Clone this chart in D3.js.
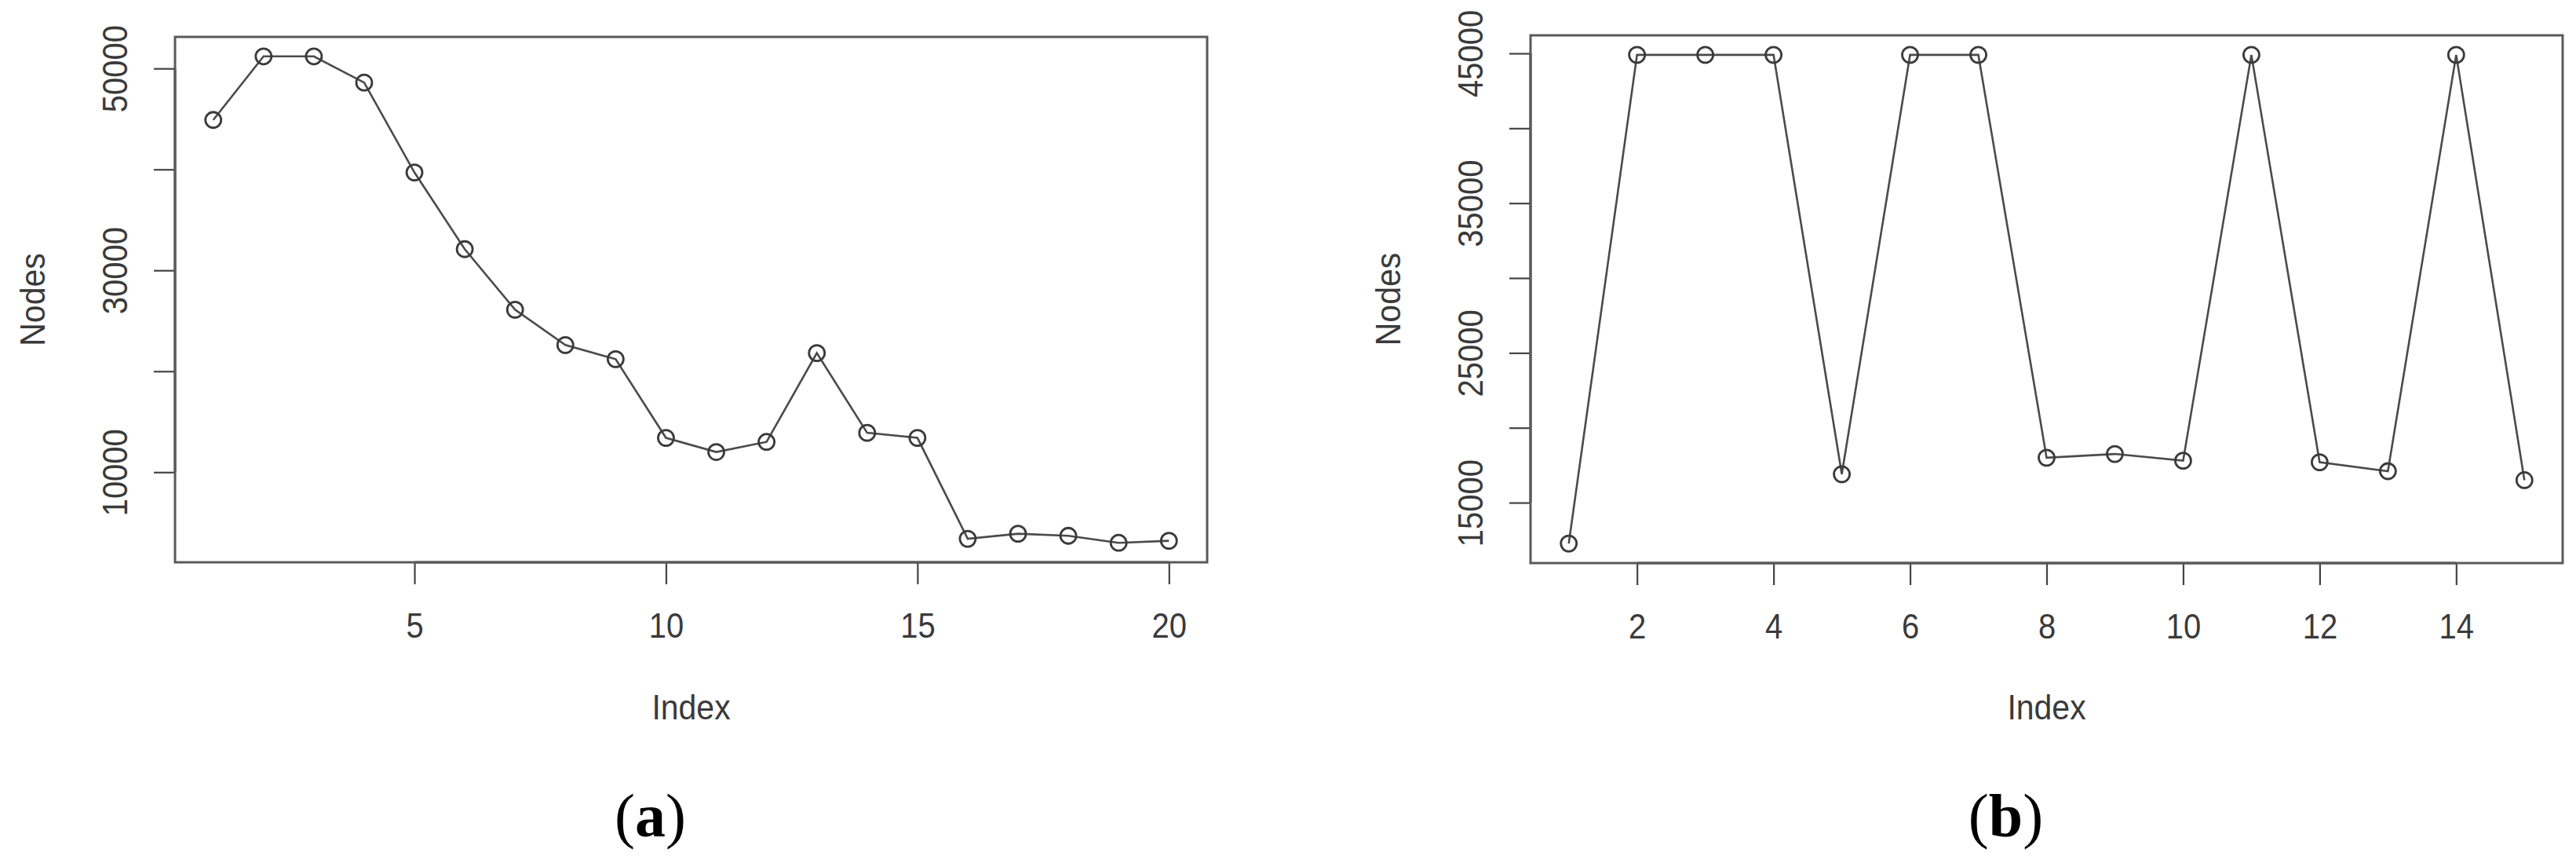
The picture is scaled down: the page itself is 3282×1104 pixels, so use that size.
<!DOCTYPE html>
<html>
<head>
<meta charset="utf-8">
<script src="https://cdn.jsdelivr.net/npm/d3@7"></script>
<style>
    body { margin: 0; background: #fff; }
    svg { display: block; }
</style>
</head>
<body>
<div id="graph"></div>
<script>
'use strict';

// ---- data ----
const indexA = d3.range(1, 21);
const nodesA = [44900, 51200, 51200, 48600, 39700, 32100, 26100, 22600, 21200, 13400,
                12000, 13000, 21800, 13900, 13400, 3400, 3900, 3700, 3000, 3200];
const xTicksA = [5, 10, 15, 20];
const yTicksA = [10000, 20000, 30000, 40000, 50000];
const yLabelsA = [10000, 30000, 50000];

const indexB = d3.range(1, 16);
const nodesB = [12270, 44900, 44900, 44900, 16900, 44900, 44900, 18000, 18250, 17800,
                44900, 17700, 17100, 44900, 16500];
const xTicksB = [2, 4, 6, 8, 10, 12, 14];
const yTicksB = [15000, 20000, 25000, 30000, 35000, 40000, 45000];
const yLabelsB = [15000, 25000, 35000, 45000];

const xTitle = "Index";
const yTitle = "Nodes";

const WIDTH = 3282, HEIGHT = 1104;

let svg = d3.select("#graph").append("svg")
    .attr("width", WIDTH)
    .attr("height", HEIGHT);

// R style: pad the data range by 4% on each side
function padded(ext) {
    let d = (ext[1] - ext[0]) * 0.04;
    return [ext[0] - d, ext[1] + d];
}

// glyphs in the figure are a bit taller than plain Arial
const STRETCH = " scale(1,1.1)";
const SANS = "'Liberation Sans', Arial, sans-serif";

function drawPanel(opts) {
    let box = opts.box;
    let x = d3.scaleLinear().domain(padded(d3.extent(opts.xs))).range([box.left, box.right]);
    let y = d3.scaleLinear().domain(padded(d3.extent(opts.ys))).range([box.bottom, box.top]);
    let data = opts.xs.map((d, i) => ({i: d, v: opts.ys[i]}));

    let g = svg.append("g");
    const tickColor = "#444";
    const textColor = "#3a3a3a";

    // bottom axis, R draws the axis line only between first and last tick
    let xAxis = g.append("g")
        .attr("transform", "translate(0," + box.bottom + ")")
        .call(d3.axisBottom(x).tickValues(opts.xTicks).tickSize(28).tickSizeOuter(0).tickFormat(d3.format("d")));
    xAxis.select(".domain")
        .attr("d", "M" + x(opts.xTicks[0]) + ",0H" + x(opts.xTicks[opts.xTicks.length - 1]))
        .attr("stroke", tickColor).attr("stroke-width", 3);
    xAxis.selectAll(".tick line").attr("stroke", tickColor).attr("stroke-width", 2.2);
    xAxis.selectAll(".tick text")
        .attr("y", 0).attr("dy", "0.36em")
        .attr("transform", "translate(0,80)" + STRETCH)
        .attr("fill", textColor)
        .style("font", "40px " + SANS);

    // left axis
    let yAxis = g.append("g")
        .attr("transform", "translate(" + box.left + ",0)")
        .call(d3.axisLeft(y).tickValues(opts.yTicks).tickSize(27).tickSizeOuter(0)
            .tickFormat(d => opts.yLabels.includes(d) ? d3.format("d")(d) : ""));
    yAxis.select(".domain")
        .attr("d", "M0," + y(opts.yTicks[0]) + "V" + y(opts.yTicks[opts.yTicks.length - 1]))
        .attr("stroke", tickColor).attr("stroke-width", 3);
    yAxis.selectAll(".tick line").attr("stroke", tickColor).attr("stroke-width", 2.2);
    yAxis.selectAll(".tick text")
        .attr("x", 0).attr("dy", "0.36em")
        .attr("transform", "translate(-77,0) rotate(-90)" + STRETCH)
        .attr("text-anchor", "middle")
        .attr("fill", textColor)
        .style("font", "40px " + SANS);

    // plot frame
    g.append("rect")
        .attr("x", box.left).attr("y", box.top)
        .attr("width", box.right - box.left).attr("height", box.bottom - box.top)
        .attr("fill", "none").attr("stroke", "#5a5a5a").attr("stroke-width", 3);

    // the series
    let line = d3.line().x(d => x(d.i)).y(d => y(d.v));
    g.append("path")
        .datum(data)
        .attr("d", line)
        .attr("fill", "none")
        .attr("stroke", "#4a4a4a")
        .attr("stroke-width", 2.6);

    g.selectAll("circle.pt")
        .data(data)
        .enter().append("circle")
        .attr("class", "pt")
        .attr("cx", d => x(d.i))
        .attr("cy", d => y(d.v))
        .attr("r", 10)
        .attr("fill", "none")
        .attr("stroke", "#3a3a3a")
        .attr("stroke-width", 2.8);

    // axis titles
    let cx = (box.left + box.right) / 2;
    g.append("text")
        .attr("transform", "translate(" + cx + ",900)" + STRETCH)
        .attr("dy", "0.36em")
        .attr("text-anchor", "middle")
        .attr("fill", textColor)
        .style("font", "41px " + SANS)
        .text(xTitle);
    g.append("text")
        .attr("transform", "translate(" + (box.left - 182) + "," + ((box.top + box.bottom) / 2) + ") rotate(-90)" + STRETCH)
        .attr("dy", "0.36em")
        .attr("text-anchor", "middle")
        .attr("fill", textColor)
        .style("font", "41px " + SANS)
        .text(yTitle);

    // panel tag, bold letter in plain brackets
    let tag = g.append("text")
        .attr("x", cx - 52).attr("y", 1065)
        .attr("text-anchor", "middle")
        .attr("fill", "#000")
        .style("font", "78px 'Liberation Serif', 'Times New Roman', serif");
    tag.append("tspan").text("(");
    tag.append("tspan").style("font-weight", "bold").text(opts.tag);
    tag.append("tspan").text(")");
}

drawPanel({
    xs: indexA, ys: nodesA,
    xTicks: xTicksA, yTicks: yTicksA, yLabels: yLabelsA,
    box: {left: 223, right: 1538, top: 47, bottom: 716},
    tag: "a"
});

drawPanel({
    xs: indexB, ys: nodesB,
    xTicks: xTicksB, yTicks: yTicksB, yLabels: yLabelsB,
    box: {left: 1950, right: 3265, top: 45, bottom: 717},
    tag: "b"
});
</script>
</body>
</html>
